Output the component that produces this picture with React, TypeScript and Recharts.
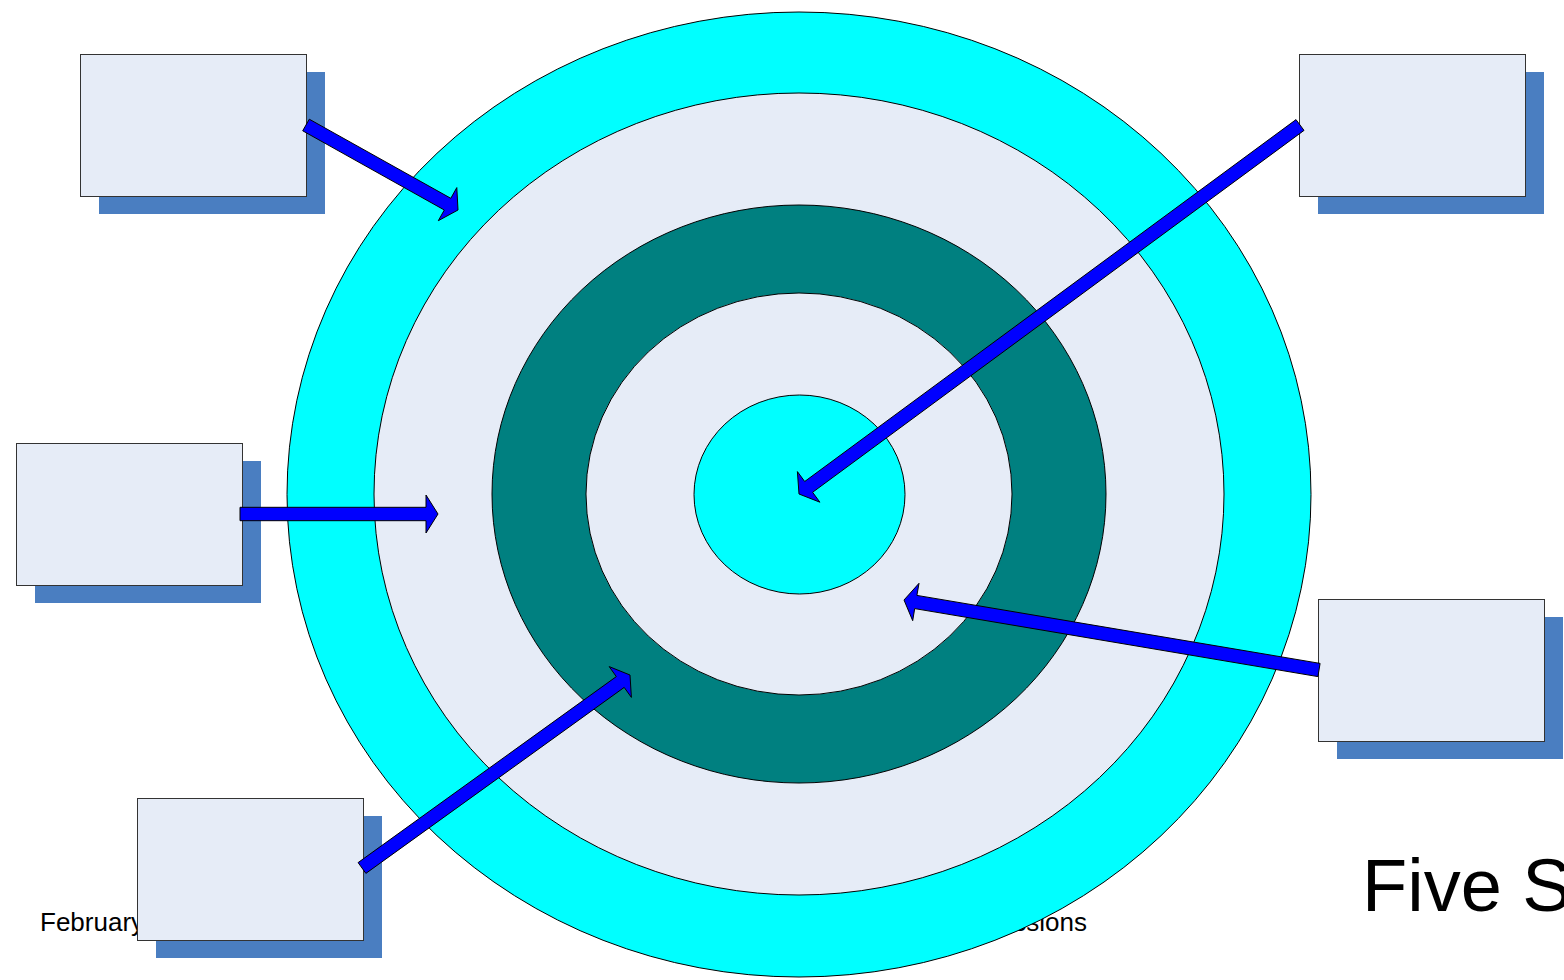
import { ComposedChart, XAxis, YAxis, ReferenceArea, ReferenceLine, ReferenceDot } from 'recharts'

const W = 1564
const H = 980
const FONT = '"Liberation Sans", Arial, Helvetica, sans-serif'

// target rings, outermost first: [x1, x2, y1, y2] in page units
const rings: [number, number, number, number][] = [
  [287, 1311, 12, 977],
  [374, 1224, 93, 895],
  [492, 1106, 205, 783],
  [586, 1012, 293, 695],
  [694, 905, 395, 594],
]
const ringColors = ['#00FFFF', '#E6ECF7', '#008080', '#E6ECF7', '#00FFFF']

// label boxes: [x1, x2, y1, y2]
const boxes: [number, number, number, number][] = [
  [80, 306, 54, 196],
  [1299, 1525, 54, 196],
  [16, 242, 443, 585],
  [1318, 1544, 599, 741],
  [137, 363, 798, 940],
]
const SHADOW_DX = 19
const SHADOW_DY = 18

// arrows: tail -> tip
const arrows: { from: [number, number]; to: [number, number] }[] = [
  { from: [306, 125], to: [458, 210] },
  { from: [1300, 125], to: [799, 494] },
  { from: [240, 514], to: [438, 514] },
  { from: [1319, 670], to: [904, 600] },
  { from: [362, 868], to: [630, 675] },
]

const footerLeft = 'February'
const footerCenter = 'Continuous Improvement Discussions'
const title = 'Five S Program'

function arrowPoints(x1: number, y1: number, x2: number, y2: number): string {
  const len = Math.hypot(x2 - x1, y2 - y1) || 1
  const ux = (x2 - x1) / len
  const uy = (y2 - y1) / len
  const nx = -uy
  const ny = ux
  const sw = 6.7 // shaft half width
  const hw = 19 // head half width
  const hl = 12 // head length
  const bx = x2 - ux * hl
  const by = y2 - uy * hl
  const pts = [
    [x1 + nx * sw, y1 + ny * sw],
    [bx + nx * sw, by + ny * sw],
    [bx + nx * hw, by + ny * hw],
    [x2, y2],
    [bx - nx * hw, by - ny * hw],
    [bx - nx * sw, by - ny * sw],
    [x1 - nx * sw, y1 - ny * sw],
  ]
  return pts.map(p => `${p[0].toFixed(1)},${p[1].toFixed(1)}`).join(' ')
}

export default function App() {
  return (
    <div style={{ position: 'absolute', left: 0, top: 0, width: W, height: H, background: '#fff' }}>
      <ComposedChart width={W} height={H} data={[]} margin={{ top: 0, right: 0, bottom: 0, left: 0 }}>
        <XAxis type="number" dataKey="x" domain={[0, W]} allowDataOverflow hide />
        <YAxis type="number" dataKey="y" domain={[0, H]} reversed allowDataOverflow hide />

        {/* footer text sits behind the target */}
        <ReferenceDot
          x={40}
          y={931}
          ifOverflow="visible"
          zIndex={100}
          shape={(p: any) => (
            <text x={p.cx} y={p.cy} fontFamily={FONT} fontSize={26} fill="#000">{footerLeft}</text>
          )}
        />
        <ReferenceDot
          x={1087}
          y={931}
          ifOverflow="visible"
          zIndex={100}
          shape={(p: any) => (
            <text x={p.cx} y={p.cy} fontFamily={FONT} fontSize={26} fill="#000" textAnchor="end">{footerCenter}</text>
          )}
        />

        {rings.map((r, i) => (
          <ReferenceArea
            key={`ring-${i}`}
            x1={r[0]}
            x2={r[1]}
            y1={r[2]}
            y2={r[3]}
            ifOverflow="visible"
            zIndex={200 + i}
            shape={(p: any) => (
              <ellipse
                cx={p.x + p.width / 2}
                cy={p.y + p.height / 2}
                rx={p.width / 2}
                ry={p.height / 2}
                fill={ringColors[i]}
                stroke="#000"
                strokeWidth={1}
              />
            )}
          />
        ))}

        {boxes.map((b, i) => (
          <ReferenceArea
            key={`shadow-${i}`}
            x1={b[0] + SHADOW_DX}
            x2={b[1] + SHADOW_DX}
            y1={b[2] + SHADOW_DY}
            y2={b[3] + SHADOW_DY}
            ifOverflow="visible"
            zIndex={300}
            shape={(p: any) => <rect x={p.x} y={p.y} width={p.width} height={p.height} fill="#4A7EC1" />}
          />
        ))}
        {boxes.map((b, i) => (
          <ReferenceArea
            key={`box-${i}`}
            x1={b[0]}
            x2={b[1]}
            y1={b[2]}
            y2={b[3]}
            ifOverflow="visible"
            zIndex={310}
            shape={(p: any) => (
              <rect x={p.x + 0.5} y={p.y + 0.5} width={p.width} height={p.height} fill="#E6ECF7" stroke="#333" strokeWidth={1} />
            )}
          />
        ))}

        {arrows.map((a, i) => (
          <ReferenceLine
            key={`arrow-${i}`}
            segment={[{ x: a.from[0], y: a.from[1] }, { x: a.to[0], y: a.to[1] }]}
            ifOverflow="visible"
            zIndex={400}
            shape={(p: any) => (
              <polygon points={arrowPoints(p.x1, p.y1, p.x2, p.y2)} fill="#0000FF" stroke="#000" strokeWidth={1} />
            )}
          />
        ))}

        {/* title runs off the right edge, as in the reference slide */}
        <ReferenceDot
          x={1362}
          y={911}
          ifOverflow="visible"
          zIndex={500}
          shape={(p: any) => (
            <text x={p.cx} y={p.cy} fontFamily={FONT} fontSize={74} fill="#000">{title}</text>
          )}
        />
      </ComposedChart>
    </div>
  )
}
